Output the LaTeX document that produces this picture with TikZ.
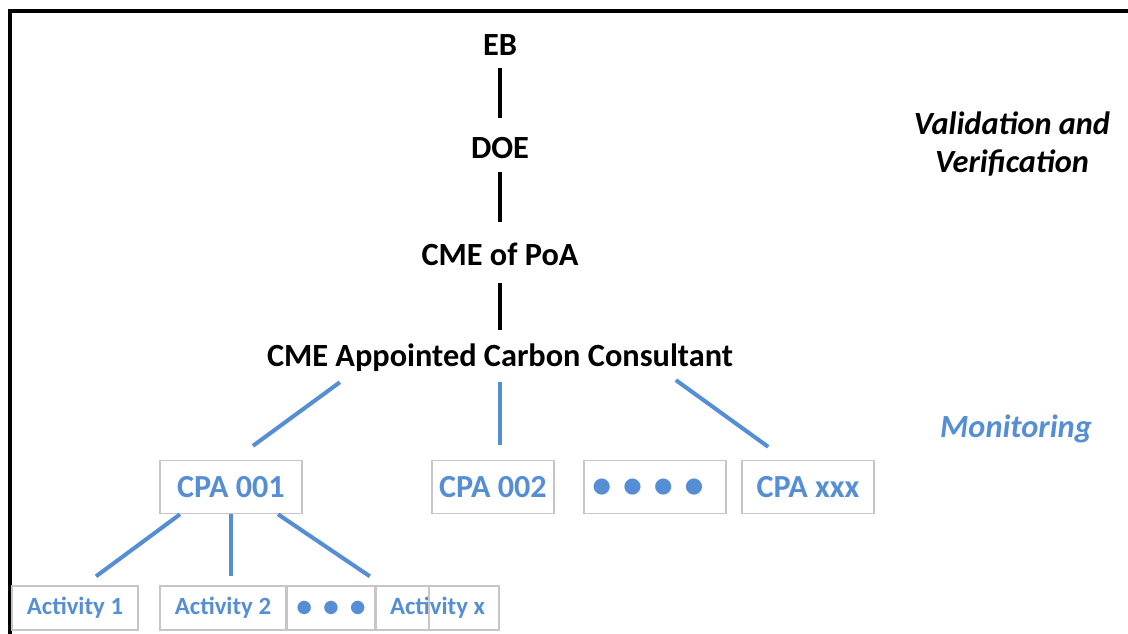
\documentclass[tikz,border=0pt]{standalone}
\usepackage{fontspec}
\setmainfont{Carlito}
\newfontfamily\dotfont{DejaVu Sans}
\usepackage{xcolor}
\usepackage{tikz}
\usetikzlibrary{positioning}

\definecolor{monblue}{RGB}{85,142,213}

\begin{document}
\begin{tikzpicture}[
    x=0.02cm, y=-0.02cm,
    lvl/.style={font=\fontsize{18.4}{21}\selectfont\bfseries, inner sep=1pt,
                text height=12pt, text depth=4pt},
    tag/.style={font=\fontsize{18.4}{22}\selectfont\bfseries\itshape, align=center},
    blk/.style={line width=2.3pt, black},
    blu/.style={line width=2.3pt, monblue},
    cpabox/.style={draw=gray!45, line width=0.9pt, text=monblue,
               minimum height=1.06cm, inner sep=0pt,
               font=\fontsize{18.3}{20}\selectfont\bfseries},
    actbox/.style={draw=gray!45, line width=0.9pt, text=monblue,
               minimum height=0.88cm, inner sep=0pt,
               font=\fontsize{14.1}{16}\selectfont\bfseries}
]
    \useasboundingbox (0,0) rectangle (1128,634);
    % frame
    \draw[line width=2.3pt] (1128,11) -- (10,11) -- (10,634);

    % chain of responsibility
    \node[lvl] (EB)   at (500,48)  {EB};
    \node[lvl] (DOE)  at (500,151) {DOE};
    \node[lvl] (CME)  at (500,258) {CME of PoA};
    \node[lvl] (CCon) at (500,359) {CME Appointed Carbon Consultant};

    \draw[blk, shorten <=0.08cm, shorten >=0.34cm] (EB) -- (DOE);
    \draw[blk, shorten <=0.10cm, shorten >=0.40cm] (DOE) -- (CME);
    \draw[blk, shorten <=0.18cm, shorten >=0.26cm] (CME) -- (CCon);

    \node[tag] (VV)  at (1012,144) {Validation and\\ Verification};
    \node[tag, text=monblue] (Mon) at (1016,429) {Monitoring};

    % CPAs
    \node[cpabox, minimum width=2.84cm] (CPA1) at (231,487) {CPA 001};
    \node[cpabox, minimum width=2.44cm] (CPA2) at (493,487) {CPA 002};
    \node[cpabox, minimum width=2.84cm, font=\fontsize{12}{14}\dotfont]
        (CPAd) at (655,487) {\hspace{-8pt}●\hspace{3.2pt} ●\hspace{3.2pt} ●\hspace{3.2pt} ●};
    \node[cpabox, minimum width=2.64cm] (CPAx) at (808,487) {CPA xxx};

    \draw[blu, shorten <=0.24cm, shorten >=0.47cm]
        ([xshift=-3.01cm]CCon.south) -- ([xshift=0.06cm]CPA1.north);
    \draw[blu, shorten <=0.14cm, shorten >=0.29cm]
        (CCon.south) -- (CCon.south |- CPA2.north);
    \draw[blu, shorten <=0.17cm, shorten >=0.44cm]
        ([xshift=3.38cm]CCon.south) -- ([xshift=-0.44cm]CPAx.north);

    % activities of CPA 001
    \node[actbox, minimum width=2.52cm] (Act1) at (75,608)  {Activity 1};
    \node[actbox, minimum width=2.52cm] (Act2) at (223,608) {Activity 2};
    \node[actbox, minimum width=1.76cm, font=\fontsize{10}{12}\dotfont]
        (Actd) at (331,608) {●\hspace{3.3pt} ●\hspace{3.3pt} ●};
    \node[actbox, minimum width=2.46cm] (Actx) at (437.5,608) {Activity x};
    \draw[draw=gray!45, line width=0.9pt]
        ([xshift=-0.17cm]Actx.north) -- ([xshift=-0.17cm]Actx.south);

    \draw[blu, shorten >=0.30cm]
        ([xshift=-1.02cm]CPA1.south) -- ([xshift=0.18cm]Act1.north);
    \draw[blu, shorten >=0.18cm]
        (CPA1.south) -- (CPA1.south |- Act2.north);
    \draw[blu, shorten >=0.32cm]
        ([xshift=0.94cm]CPA1.south) -- ([xshift=-1.09cm]Actx.north);
\end{tikzpicture}
\end{document}
